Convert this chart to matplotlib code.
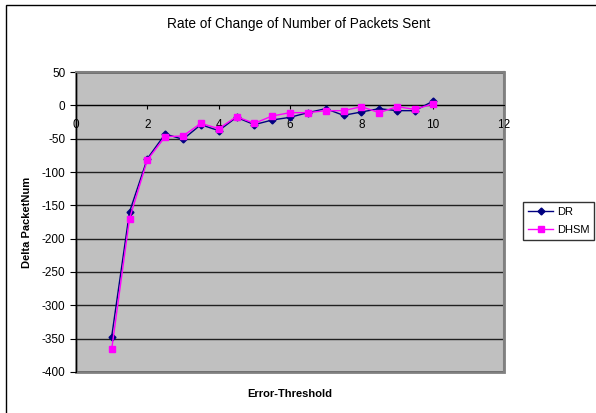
import matplotlib
matplotlib.use("Agg")
import matplotlib.pyplot as plt
from matplotlib.patches import Rectangle

plt.rcParams["font.family"] = ["Liberation Sans", "DejaVu Sans"]
plt.rcParams["axes.unicode_minus"] = False

# === data ===
error_threshold = [1, 1.5, 2, 2.5, 3, 3.5, 4, 4.5, 5, 5.5, 6, 6.5, 7, 7.5, 8, 8.5, 9, 9.5, 10]
dr = [-347, -160, -80, -43, -51, -29, -38, -18, -29, -22, -18, -11, -5, -15, -10, -5, -8, -8, 6]
dhsm = [-366, -170, -82, -47, -46, -27, -35, -17, -27, -16, -11, -11, -8, -8, -2, -11, -2, -6, 2]
x_ticks = [0, 2, 4, 6, 8, 10, 12]
y_ticks = list(range(-400, 51, 50))

W, H = 596, 413
fig = plt.figure(figsize=(W / 100, H / 100), dpi=100)
ax = fig.add_axes([76 / W, 1 - 372 / H, (504 - 76) / W, (372 - 72) / H])

ax.set_facecolor("#C0C0C0")
ax.patch.set_edgecolor("#808080")
ax.patch.set_linewidth(2)

# horizontal grid
ax.set_yticks(y_ticks)
ax.yaxis.grid(True, color="#202020", linewidth=1)
ax.set_axisbelow(True)

ax.plot(error_threshold, dr, color="#000080", marker="D", markersize=3.5,
        linewidth=1, label="DR", zorder=3)
ax.plot(error_threshold, dhsm, color="#FF00FF", marker="s", markersize=4.5,
        linewidth=1, label="DHSM", zorder=4)

ax.set_xlim(0, 12)
ax.set_ylim(-400, 50)
ax.set_xticks(x_ticks)

# x axis crosses at zero
ax.spines["bottom"].set_position(("data", 0))
ax.spines["bottom"].set_color("black")
ax.spines["left"].set_color("black")
ax.spines["top"].set_color("#808080")
ax.spines["right"].set_color("#808080")
ax.spines["top"].set_linewidth(1.5)
ax.spines["right"].set_linewidth(1.5)

ax.tick_params(axis="x", direction="out", length=3, pad=7, labelsize=8.5)
ax.tick_params(axis="y", direction="out", length=4.5, pad=3, labelsize=8.5)

fig.text(299 / W, 1 - 24 / H, "Rate of Change of Number of Packets Sent",
         ha="center", va="center", fontsize=9.8)
fig.text(290 / W, 1 - 394 / H, "Error-Threshold", ha="center", va="center",
         fontsize=8, fontweight="bold")
fig.text(27 / W, 1 - 222 / H, "Delta PacketNum", ha="center", va="center",
         rotation=90, fontsize=8, fontweight="bold")

leg = fig.legend(loc="upper left", bbox_to_anchor=(523 / W, 1 - 202 / H),
                 fontsize=8, frameon=True, fancybox=False, borderpad=0.45,
                 handlelength=2.25, handletextpad=0.35, labelspacing=0.75,
                 borderaxespad=0)
leg.get_frame().set_edgecolor("black")
leg.get_frame().set_linewidth(1)

# chart area border (only left and top visible in the crop)
fig.patches.append(Rectangle((6 / W, -0.1), 1.2, 1 - 5 / H + 0.1,
                             transform=fig.transFigure, fill=False,
                             edgecolor="black", linewidth=1))

fig.savefig("out.png", dpi=100)
